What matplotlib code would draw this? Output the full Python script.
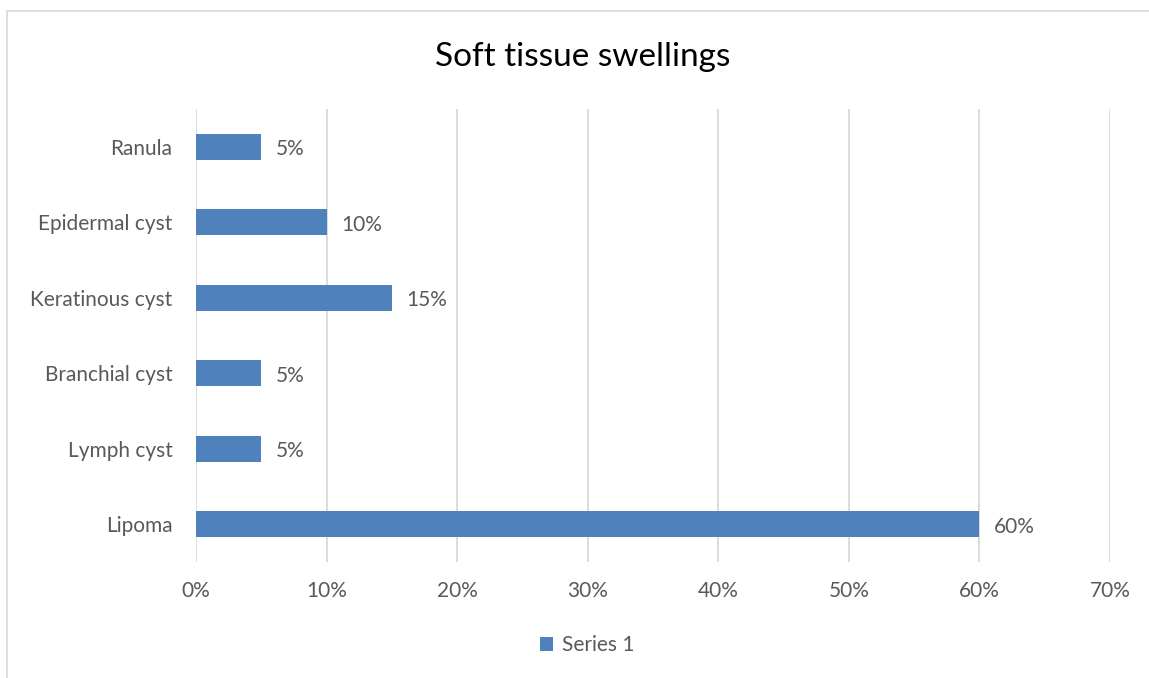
import matplotlib.pyplot as plt
from matplotlib.patches import Rectangle
from matplotlib.ticker import PercentFormatter

plt.rcParams['font.family'] = ['Lato', 'DejaVu Sans']

categories = ["Lipoma", "Lymph cyst", "Branchial cyst", "Keratinous cyst", "Epidermal cyst", "Ranula"]
values = [60, 5, 5, 15, 10, 5]
ticks = [0, 10, 20, 30, 40, 50, 60, 70]

blue = "#4f81bd"
grey = "#595959"
fs = 15

fig = plt.figure(figsize=(11.49, 6.78), dpi=100)
ax = fig.add_axes([196/1149, 1 - 562/678, (1110 - 196)/1149, (562 - 109)/678])

# chart frame
fig.patches.append(Rectangle((6.5/1149, -0.01), 1.02, 1 - 11/678 + 0.01, transform=fig.transFigure,
                             fill=False, edgecolor="#d9d9d9", linewidth=1.2))

y = range(len(categories))
ax.barh(y, values, height=0.35, color=blue, zorder=3, label="Series 1")
for yi, v in zip(y, values):
    ax.text(v + 1.1, yi - 0.03, f"{v}%", va="center", ha="left", fontsize=fs, color=grey)

ax.set_xlim(0, 70)
ax.set_ylim(-0.5, len(categories) - 0.5)
ax.set_xticks(ticks)
ax.xaxis.set_major_formatter(PercentFormatter(decimals=0))
ax.set_yticks(list(y))
ax.set_yticklabels(categories)
ax.tick_params(axis="both", length=0, labelsize=fs, labelcolor=grey)
ax.tick_params(axis="x", pad=14)
ax.tick_params(axis="y", pad=17)
ax.grid(axis="x", color="#d9d9d9", linewidth=1.3, zorder=0)
for s in ax.spines.values():
    s.set_visible(False)

fig.text(583/1149, 1 - 57/678, "Soft tissue swellings", ha="center", va="center", fontsize=24, color="black")
fig.legend(loc="center", bbox_to_anchor=(587/1149, 1 - 645/678), frameon=False, fontsize=fs,
           labelcolor=grey, handlelength=0.65, handleheight=0.65, handletextpad=0.4)

fig.savefig("out.png", dpi=100)
